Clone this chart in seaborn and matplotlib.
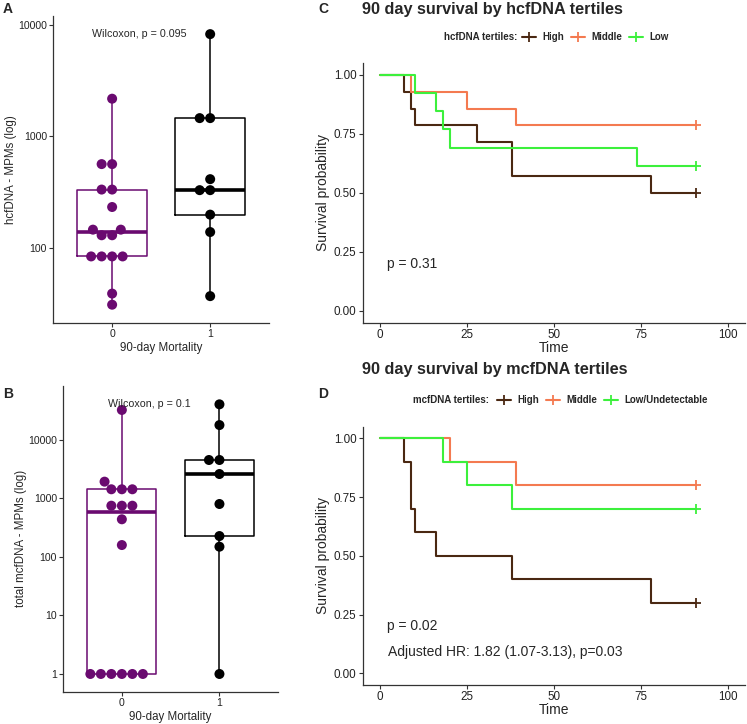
import numpy as np
import pandas as pd
import seaborn as sns
import matplotlib.pyplot as plt
from matplotlib.lines import Line2D

sns.set_theme(style="ticks")
plt.rcParams['font.family'] = ['Liberation Sans', 'DejaVu Sans']

# panel A: hcfDNA (MPMs) by 90-day mortality
hcf_alive = [31, 39, 84, 84, 84, 84, 130, 130, 146, 146, 233, 334, 334, 565, 565, 2180]
hcf_dead = [37, 139, 199, 330, 330, 414, 1460, 1460, 8270]
# panel B: total mcfDNA (MPMs)
mcf_alive = [1, 1, 1, 1, 1, 1, 160, 441, 753, 753, 753, 1437, 1437, 1437, 1940, 32600]
mcf_dead = [1, 150, 228, 805, 2620, 4550, 4550, 18000, 40700]
groups = ["0", "1"]
box_colors = ["#6a0a70", "#000000"]

# panel C: KM steps by hcfDNA tertile
hcf_high_t = [0, 7, 9, 10, 28, 38, 78, 91]
hcf_high_s = [1.0, 0.929, 0.857, 0.786, 0.714, 0.571, 0.5, 0.5]
hcf_mid_t = [0, 9, 25, 39, 91]
hcf_mid_s = [1.0, 0.929, 0.857, 0.786, 0.786]
hcf_low_t = [0, 10, 16, 18, 20, 74, 91]
hcf_low_s = [1.0, 0.923, 0.846, 0.769, 0.692, 0.615, 0.615]
# panel D: KM steps by mcfDNA tertile
mcf_high_t = [0, 7, 9, 10, 16, 38, 78, 91]
mcf_high_s = [1.0, 0.9, 0.7, 0.6, 0.5, 0.4, 0.3, 0.3]
mcf_mid_t = [0, 20, 39, 91]
mcf_mid_s = [1.0, 0.9, 0.8, 0.8]
mcf_low_t = [0, 18, 25, 38, 91]
mcf_low_s = [1.0, 0.9, 0.8, 0.7, 0.7]
km_colors = ["#4a2812", "#f47a50", "#3cf03c"]

W, H = 747, 724
fig = plt.figure(figsize=(W / 100, H / 100), dpi=100)


def px_axes(left, top, right, bottom):
    return fig.add_axes([left / W, 1 - bottom / H, (right - left) / W, (bottom - top) / H])


def style_axes(ax, size):
    sns.despine(ax=ax)
    for s in ["left", "bottom"]:
        ax.spines[s].set_linewidth(0.9)
        ax.spines[s].set_color("#333333")
    ax.tick_params(length=3, width=0.8, color="#333333", labelsize=size, labelcolor="#222222", pad=1.5)


def box_panel(ax, alive, dead, ylabel, yticks, ylim, pval):
    df = pd.DataFrame({"mortality": [groups[0]] * len(alive) + [groups[1]] * len(dead),
                       "value": alive + dead})
    sns.boxplot(data=df, x="mortality", y="value", hue="mortality", order=groups, hue_order=groups,
                palette=box_colors, fill=False, width=0.71, whis=np.inf, showcaps=False,
                linewidth=1.1, medianprops={"linewidth": 2.6}, log_scale=True, legend=False, ax=ax)
    sns.swarmplot(data=df, x="mortality", y="value", hue="mortality", order=groups, hue_order=groups,
                  palette=box_colors, size=7.2, log_scale=True, legend=False, ax=ax)
    ax.set_xlim(-0.6, 1.6)
    ax.set_ylim(*ylim)
    ax.set_yticks(yticks)
    ax.set_yticklabels([str(v) for v in yticks])
    ax.yaxis.set_minor_locator(plt.NullLocator())
    ax.set_xlabel("90-day Mortality", fontsize=8.3, labelpad=2)
    ax.set_ylabel(ylabel, fontsize=8.3, labelpad=1)
    ax.text(0.40, 0.94, pval, transform=ax.transAxes, ha="center", va="center", fontsize=7.7)
    style_axes(ax, 7.6)


def km_panel(ax, curves, pval_lines):
    for (t, s), c in zip(curves, km_colors):
        sns.lineplot(x=t, y=s, drawstyle="steps-post", color=c, linewidth=1.5,
                     estimator=None, sort=False, ax=ax)
        ax.plot(t[-1], s[-1], marker="+", color=c, markersize=7, markeredgewidth=1.3)
    ax.set_xlim(-5, 105)
    ax.set_ylim(-0.05, 1.05)
    ax.set_xticks([0, 25, 50, 75, 100])
    ax.set_yticks([0, 0.25, 0.5, 0.75, 1.0])
    ax.set_yticklabels(["0.00", "0.25", "0.50", "0.75", "1.00"])
    ax.set_xlabel("Time", fontsize=10, labelpad=0)
    ax.set_ylabel("Survival probability", fontsize=10, labelpad=3)
    for x, y, txt in pval_lines:
        ax.text(x, y, txt, ha="left", va="center", fontsize=10)
    style_axes(ax, 8.4)


def km_legend(title, labels, title_right, handle_left, y):
    handles = [Line2D([0], [0], color=c, lw=1.5, marker="+", markersize=7, markeredgewidth=1.3)
               for c in km_colors]
    fig.legend(handles, labels, loc="center left", bbox_to_anchor=(handle_left / W, 1 - y / H),
               ncol=3, frameon=False, prop={"weight": "bold", "size": 7}, handlelength=1.45,
               handletextpad=0.6, columnspacing=0.75, borderpad=0, borderaxespad=0)
    fig.text(title_right / W, 1 - y / H, title, ha="right", va="center", fontsize=7, weight="bold")


axA = px_axes(53.3, 16, 269, 322.7)
box_panel(axA, hcf_alive, hcf_dead, "hcfDNA - MPMs (log)", [100, 1000, 10000],
          (10 ** 1.33, 10 ** 4.08), "Wilcoxon, p = 0.095")

axB = px_axes(63.3, 386, 278, 691.7)
box_panel(axB, mcf_alive, mcf_dead, "total mcfDNA - MPMs (log)", [1, 10, 100, 1000, 10000],
          (10 ** -0.303, 10 ** 4.923), "Wilcoxon, p = 0.1")

axC = px_axes(362.7, 63, 745, 322.7)
km_panel(axC, [(hcf_high_t, hcf_high_s), (hcf_mid_t, hcf_mid_s), (hcf_low_t, hcf_low_s)],
         [(2, 0.2, "p = 0.31")])
km_legend("hcfDNA tertiles:", ["High", "Middle", "Low"], 517, 522, 37)
fig.text(362 / W, 1 - 2 / H, "90 day survival by hcfDNA tertiles", ha="left", va="top",
         fontsize=11.7, weight="bold")

axD = px_axes(362.7, 426.5, 745, 685)
km_panel(axD, [(mcf_high_t, mcf_high_s), (mcf_mid_t, mcf_mid_s), (mcf_low_t, mcf_low_s)],
         [(2, 0.2, "p = 0.02"), (2.4, 0.09, "Adjusted HR: 1.82 (1.07-3.13), p=0.03")])
km_legend("mcfDNA tertiles:", ["High", "Middle", "Low/Undetectable"], 489, 497, 400)
fig.text(362 / W, 1 - 362 / H, "90 day survival by mcfDNA tertiles", ha="left", va="top",
         fontsize=11.7, weight="bold")

for x, y, letter in [(3, 2, "A"), (3, 387, "B"), (318, 2, "C"), (318, 387, "D")]:
    fig.text(x / W, 1 - y / H, letter, ha="left", va="top", fontsize=10, weight="bold")

fig.savefig("out.png", dpi=100)
